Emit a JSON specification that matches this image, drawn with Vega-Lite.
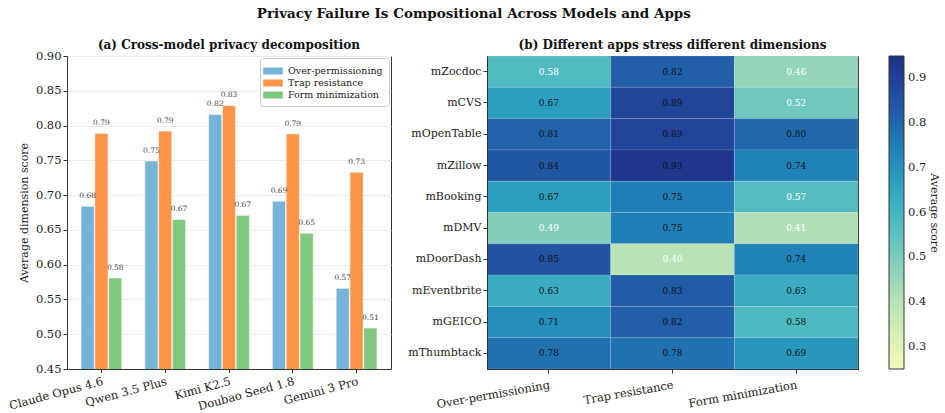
{
  "$schema": "https://vega.github.io/schema/vega-lite/v6.json",
  "padding": {"left": 7, "top": 6, "right": 2, "bottom": 2},
  "config": {
    "font": "DejaVu Serif",
    "view": {"stroke": "#333", "strokeWidth": 1},
    "axis": {"labelFont": "DejaVu Serif", "titleFont": "DejaVu Serif", "labelColor": "#222", "titleColor": "#222", "titleFontWeight": "normal", "labelFontSize": 11, "titleFontSize": 11, "domainColor": "#333", "tickColor": "#333"},
    "legend": {"labelFont": "DejaVu Serif", "titleFont": "DejaVu Serif", "titleFontWeight": "normal"},
    "title": {"font": "DejaVu Serif", "fontWeight": "bold", "color": "#111"}
  },
  "title": {"text": "Privacy Failure Is Compositional Across Models and Apps", "fontSize": 13.5, "anchor": "middle", "offset": 18},
  "datasets": {
    "bars": [
      {"model": "Claude Opus 4.6", "dim": "Over-permissioning", "score": 0.684},
      {"model": "Claude Opus 4.6", "dim": "Trap resistance", "score": 0.789},
      {"model": "Claude Opus 4.6", "dim": "Form minimization", "score": 0.581},
      {"model": "Qwen 3.5 Plus", "dim": "Over-permissioning", "score": 0.749},
      {"model": "Qwen 3.5 Plus", "dim": "Trap resistance", "score": 0.792},
      {"model": "Qwen 3.5 Plus", "dim": "Form minimization", "score": 0.665},
      {"model": "Kimi K2.5", "dim": "Over-permissioning", "score": 0.816},
      {"model": "Kimi K2.5", "dim": "Trap resistance", "score": 0.829},
      {"model": "Kimi K2.5", "dim": "Form minimization", "score": 0.671},
      {"model": "Doubao Seed 1.8", "dim": "Over-permissioning", "score": 0.691},
      {"model": "Doubao Seed 1.8", "dim": "Trap resistance", "score": 0.788},
      {"model": "Doubao Seed 1.8", "dim": "Form minimization", "score": 0.645},
      {"model": "Gemini 3 Pro", "dim": "Over-permissioning", "score": 0.566},
      {"model": "Gemini 3 Pro", "dim": "Trap resistance", "score": 0.733},
      {"model": "Gemini 3 Pro", "dim": "Form minimization", "score": 0.509}
    ],
    "heat": [
      {"app": "mZocdoc", "dim": "Over-permissioning", "score": 0.577},
      {"app": "mZocdoc", "dim": "Trap resistance", "score": 0.82},
      {"app": "mZocdoc", "dim": "Form minimization", "score": 0.46},
      {"app": "mCVS", "dim": "Over-permissioning", "score": 0.67},
      {"app": "mCVS", "dim": "Trap resistance", "score": 0.89},
      {"app": "mCVS", "dim": "Form minimization", "score": 0.52},
      {"app": "mOpenTable", "dim": "Over-permissioning", "score": 0.81},
      {"app": "mOpenTable", "dim": "Trap resistance", "score": 0.89},
      {"app": "mOpenTable", "dim": "Form minimization", "score": 0.80},
      {"app": "mZillow", "dim": "Over-permissioning", "score": 0.84},
      {"app": "mZillow", "dim": "Trap resistance", "score": 0.93},
      {"app": "mZillow", "dim": "Form minimization", "score": 0.74},
      {"app": "mBooking", "dim": "Over-permissioning", "score": 0.67},
      {"app": "mBooking", "dim": "Trap resistance", "score": 0.75},
      {"app": "mBooking", "dim": "Form minimization", "score": 0.57},
      {"app": "mDMV", "dim": "Over-permissioning", "score": 0.49},
      {"app": "mDMV", "dim": "Trap resistance", "score": 0.75},
      {"app": "mDMV", "dim": "Form minimization", "score": 0.41},
      {"app": "mDoorDash", "dim": "Over-permissioning", "score": 0.85},
      {"app": "mDoorDash", "dim": "Trap resistance", "score": 0.40},
      {"app": "mDoorDash", "dim": "Form minimization", "score": 0.74},
      {"app": "mEventbrite", "dim": "Over-permissioning", "score": 0.63},
      {"app": "mEventbrite", "dim": "Trap resistance", "score": 0.83},
      {"app": "mEventbrite", "dim": "Form minimization", "score": 0.63},
      {"app": "mGEICO", "dim": "Over-permissioning", "score": 0.71},
      {"app": "mGEICO", "dim": "Trap resistance", "score": 0.82},
      {"app": "mGEICO", "dim": "Form minimization", "score": 0.583},
      {"app": "mThumbtack", "dim": "Over-permissioning", "score": 0.78},
      {"app": "mThumbtack", "dim": "Trap resistance", "score": 0.78},
      {"app": "mThumbtack", "dim": "Form minimization", "score": 0.69}
    ]
  },
  "spacing": 15,
  "resolve": {"scale": {"color": "independent"}, "legend": {"color": "independent"}},
  "hconcat": [
    {
      "width": 324,
      "height": 313,
      "title": {"text": "(a) Cross-model privacy decomposition", "fontSize": 12, "offset": 4, "dy": 6},
      "data": {"name": "bars"},
      "encoding": {
        "x": {"field": "model", "type": "nominal", "sort": ["Claude Opus 4.6", "Qwen 3.5 Plus", "Kimi K2.5", "Doubao Seed 1.8", "Gemini 3 Pro"],
              "scale": {"paddingInner": 0.36, "paddingOuter": 0.22},
              "axis": {"title": null, "labelAngle": -15, "labelAlign": "right", "labelBaseline": "top", "labelFontSize": 11.5, "tickSize": 3.5, "labelPadding": 3}},
        "xOffset": {"field": "dim", "type": "nominal", "sort": ["Over-permissioning", "Trap resistance", "Form minimization"], "scale": {"paddingInner": 0.04}},
        "y": {"field": "score", "type": "quantitative", "scale": {"domain": [0.45, 0.9], "zero": false, "nice": false},
              "axis": {"title": "Average dimension score", "values": [0.45, 0.5, 0.55, 0.6, 0.65, 0.7, 0.75, 0.8, 0.85, 0.9], "format": ".2f", "grid": true, "gridColor": "#ebebeb", "tickSize": 4, "labelFontSize": 11.5, "titlePadding": 6}}
      },
      "layer": [
        {
          "mark": {"type": "bar", "clip": true, "stroke": "white", "strokeWidth": 0.6},
          "encoding": {
            "color": {"field": "dim", "type": "nominal", "sort": ["Over-permissioning", "Trap resistance", "Form minimization"],
                      "scale": {"range": ["#76b3d8", "#fd9548", "#80c880"]},
                      "legend": {"orient": "top-right", "title": null, "offset": 2, "fillColor": "white", "strokeColor": "#cccccc", "cornerRadius": 3, "padding": 6, "labelFontSize": 9.5, "labelColor": "#222", "symbolType": "M-1.4,-0.5H1.4V0.5H-1.4Z", "symbolSize": 196, "symbolStrokeWidth": 0, "symbolOpacity": 1, "rowPadding": 0, "labelOffset": 8}}
          }
        },
        {
          "mark": {"type": "text", "dy": -10, "fontSize": 7.5, "color": "#444", "baseline": "middle"},
          "encoding": {"text": {"field": "score", "type": "quantitative", "format": ".2f"}}
        }
      ]
    },
    {
      "width": 371,
      "height": 313,
      "title": {"text": "(b) Different apps stress different dimensions", "fontSize": 12, "offset": 4},
      "data": {"name": "heat"},
      "encoding": {
        "x": {"field": "dim", "type": "nominal", "sort": ["Over-permissioning", "Trap resistance", "Form minimization"],
              "axis": {"title": null, "labelAngle": -10, "labelAlign": "right", "labelBaseline": "top", "labelFontSize": 11.5, "tickSize": 4, "labelPadding": 6}},
        "y": {"field": "app", "type": "nominal", "sort": ["mZocdoc", "mCVS", "mOpenTable", "mZillow", "mBooking", "mDMV", "mDoorDash", "mEventbrite", "mGEICO", "mThumbtack"],
              "axis": {"title": null, "labelFontSize": 11, "tickSize": 4, "labelPadding": 2}}
      },
      "layer": [
        {
          "mark": {"type": "rect", "stroke": "white", "strokeWidth": 0.5, "strokeOpacity": 0.25},
          "encoding": {
            "color": {"field": "score", "type": "quantitative", "scale": {"scheme": "yellowgreenblue", "domain": [0.25, 0.95]},
                      "legend": {"orient": "right", "offset": 31, "title": "Average score", "titleOrient": "right", "titleAngle": 270, "titleAnchor": "middle", "titleFontSize": 11, "titleColor": "#222", "titlePadding": 3, "gradientLength": 313, "gradientThickness": 15, "gradientStrokeColor": "#333", "gradientStrokeWidth": 1, "values": [0.3, 0.4, 0.5, 0.6, 0.7, 0.8, 0.9], "format": ".1f", "labelFontSize": 11.5, "labelColor": "#222", "labelOffset": 4}}
          }
        },
        {
          "mark": {"type": "text", "fontSize": 9},
          "encoding": {
            "text": {"field": "score", "type": "quantitative", "format": ".2f"},
            "color": {"condition": {"test": "datum.score < 0.58", "value": "white"}, "value": "#111"}
          }
        }
      ]
    }
  ]
}
